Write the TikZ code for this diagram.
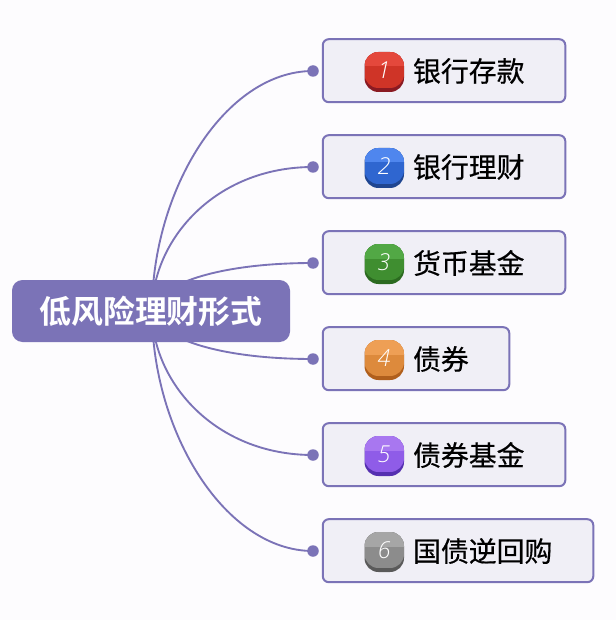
\documentclass[tikz,border=0pt]{standalone}
\usepackage{fontspec}
\setmainfont{Noto Sans CJK SC}[FakeBold=0.45]
\newfontfamily\rootfont{Noto Sans CJK SC Bold}
\newfontfamily\numfont{Open Sans Light}[ItalicFont={Open Sans Light Italic}]
\definecolor{pagebg}{HTML}{FDFCFE}
\definecolor{theme}{HTML}{7B73B7}
\definecolor{leaf}{HTML}{F0EFF6}
\definecolor{ra}{HTML}{E4483C}\definecolor{rb}{HTML}{CF3427}\definecolor{rc}{HTML}{8A1A22}
\definecolor{ba}{HTML}{4F86EE}\definecolor{bb}{HTML}{2F66D0}\definecolor{bc}{HTML}{1F4590}
\definecolor{ga}{HTML}{52A845}\definecolor{gb}{HTML}{3F8E30}\definecolor{gc}{HTML}{2B6A20}
\definecolor{oa}{HTML}{EE9F55}\definecolor{ob}{HTML}{DD8A3C}\definecolor{oc}{HTML}{B05F1C}
\definecolor{pa}{HTML}{A877F0}\definecolor{pb}{HTML}{8F5CE8}\definecolor{pc}{HTML}{5530B0}
\definecolor{ya}{HTML}{A6A6A6}\definecolor{yb}{HTML}{8C8C8C}\definecolor{yc}{HTML}{5A5A5A}
\tikzset{
  x=0.75pt,y=-0.75pt,
  rootbox/.style={fill=theme,rounded corners=10.5pt*0.75,minimum width=278*0.75pt,minimum height=62*0.75pt,inner sep=0,text=white,font=\rootfont\fontsize{23.9pt}{26pt}\selectfont},
  leafbox/.style={draw=theme,line width=1.5pt,fill=leaf,rounded corners=4.5pt,minimum height=63*0.75pt,inner sep=0},
  leaftext/.style={anchor=west,inner sep=0,font=\fontsize{20.9pt}{24pt}\selectfont,text=black},
  numtext/.style={inner sep=0,text=white,font=\numfont\itshape\fontsize{17.5pt}{19pt}\selectfont},
  dot/.style={circle,fill=theme,minimum size=11.5*0.75pt,inner sep=0},
  link/.style={draw=theme,line width=1.4pt},
}
\newcommand{\leafrow}[8]{%
  \node[leafbox,minimum width={(#3-322.5)*0.75pt},anchor=west] (box#1) at (321.8,#2-.3) {};
  \node[dot] (dot#1) at (313,#2) {};
  \begin{scope}
    \fill[#8,rounded corners=10.5pt] (364.5,#2-19) rectangle (404,#2+21);
    \clip[rounded corners=10.5pt] (364.5,#2-19) rectangle (404,#2+17);
    \fill[#7] (364.5,#2-19) rectangle (404,#2+17);
    \fill[#6] (364.5,#2-19) rectangle (404,#2-4.5);
  \end{scope}
  \node[numtext] (num#1) at (384,#2-1) {#4};
  \node[leaftext] (txt#1) at (412.8,#2) {#5};
}
\begin{document}
\begin{tikzpicture}
\useasboundingbox[fill=pagebg] (0,0) rectangle (616,620);
\coordinate (rootc) at (152,311);
\leafrow{1}{71}{565}{1}{银行存款}{ra}{rb}{rc}
\leafrow{2}{167}{565}{2}{银行理财}{ba}{bb}{bc}
\leafrow{3}{263}{565}{3}{货币基金}{ga}{gb}{gc}
\leafrow{4}{359}{509}{4}{债券}{oa}{ob}{oc}
\leafrow{5}{455}{565}{5}{债券基金}{pa}{pb}{pc}
\leafrow{6}{551}{593}{6}{国债逆回购}{ya}{yb}{yc}
\draw[link] (rootc) .. controls (152,190) and (225,71) .. (dot1.center);
\draw[link] (rootc) .. controls (152,240) and (215,167) .. (dot2.center);
\draw[link] (rootc) .. controls (152,290) and (205,263) .. (dot3.center);
\draw[link] (rootc) .. controls (152,332) and (205,359) .. (dot4.center);
\draw[link] (rootc) .. controls (152,382) and (215,455) .. (dot5.center);
\draw[link] (rootc) .. controls (152,432) and (225,551) .. (dot6.center);
\node[rootbox] (root) at (151,311) {低风险理财形式};
\end{tikzpicture}
\end{document}
